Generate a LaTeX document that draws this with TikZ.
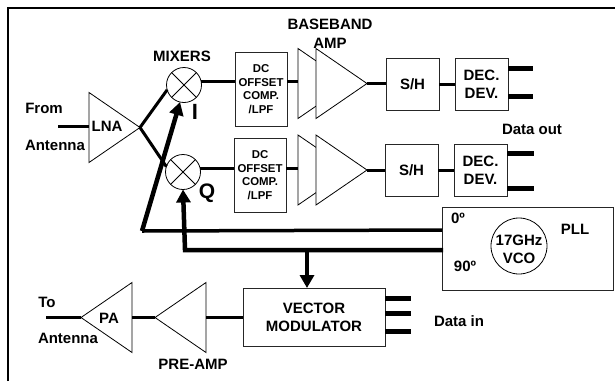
\documentclass[tikz,border=0pt]{standalone}
\usepackage{fontspec}
\setmainfont{Liberation Sans}
\usetikzlibrary{shapes.geometric,arrows.meta,positioning}

\begin{document}
\begin{tikzpicture}[
        x=1pt, y=-1pt,
        font=\fontsize{15}{18}\selectfont\bfseries,
        box/.style={rectangle, draw=black!85, line width=1pt, inner sep=0pt, outer sep=0pt, align=center},
        dcbox/.style={box, minimum width=52pt, minimum height=74pt, font=\fontsize{11.4}{13.5}\selectfont\bfseries},
        shbox/.style={box, minimum width=53pt, minimum height=52pt},
        mixer/.style={circle, draw=black, line width=0.8pt, minimum size=35pt, inner sep=0pt, outer sep=0pt,
            path picture={\draw[line width=0.8pt] (path picture bounding box.north west) -- (path picture bounding box.south east)
                (path picture bounding box.north east) -- (path picture bounding box.south west);}},
        amp/.style={isosceles triangle, isosceles triangle stretches, draw=black, fill=white, line width=0.8pt,
            minimum height=51pt, minimum width=70pt, inner sep=0pt, outer sep=0pt, anchor=lower side},
        ampback/.style={amp, shape border rotate=180},
        txt/.style={inner sep=0pt, outer sep=0pt, align=center},
        wire/.style={line width=3pt},
        fatwire/.style={line width=5pt},
        bigarrow/.style={line width=4.5pt, -{Triangle[length=13pt,width=14pt]}}
    ]
    \useasboundingbox (0,0) rectangle (615,381);

    % Frame
    \draw[line width=2pt] (8,381) -- (8,8) -- (615,8);

    % Receive input
    \node[amp] (lna) at (89,127.5) {};
    \node[txt] (lnatxt) at (107,126) {LNA};
    \coordinate (rfin) at (58,126);
    \node[txt] (from) at (44,108) {From};
    \node[txt] (antin) at (55,145) {Antenna};

    % Mixers
    \node[mixer] (mixi) at (184,85) {};
    \node[mixer] (mixq) at (183,172) {};
    \node[txt] (mixtxt) at (182,56) {MIXERS};
    \node[txt, font=\fontsize{22}{24}\selectfont\bfseries] (itxt) at (195,112) {I};
    \node[txt, font=\fontsize{21}{24}\selectfont\bfseries] (qtxt) at (207,193) {Q};

    % I channel
    \node[dcbox] (dc1) at (261,89) {DC\\OFFSET\\COMP.\\/LPF};
    \node[amp] (bb1a) at (298,83.5) {};
    \node[amp] (bb1b) at (316,83.5) {};
    \node[shbox] (sh1) at (412.5,84) {S/H};
    \node[shbox, right=16pt of sh1] (dec1) {DEC.\\DEV.};

    % Q channel
    \node[dcbox] (dc2) at (260,175) {DC\\OFFSET\\COMP.\\/LPF};
    \node[amp] (bb2a) at (298,170) {};
    \node[amp] (bb2b) at (316,170) {};
    \node[shbox] (sh2) at (411.5,170) {S/H};
    \node[shbox, right=16pt of sh2] (dec2) {DEC.\\DEV.};

    \node[txt] (bbtxt) at (330,24) {BASEBAND};
    \node[txt] (amptxt) at (330,43) {AMP};
    \node[txt] (outtxt) at (532,129) {Data out};
    \coordinate (out1) at (533,68);
    \coordinate (out2) at (533,96);
    \coordinate (out3) at (534,153);
    \coordinate (out4) at (534,188);

    % PLL
    \node[box] (pll) [minimum width=171pt, minimum height=83pt] at (527.5,248.5) {};
    \node[circle, draw=black, line width=0.8pt, minimum size=56pt, inner sep=0pt] (vco) at (519,246) {};
    \node[txt] (vcotxt) at (519,249) {17GHz\\VCO};
    \node[txt] (pllzero) at (458,218) {0º};
    \node[txt] (pllninety) at (465,266) {90º};
    \node[txt] (plltxt) at (575,229) {PLL};
    \coordinate (pll0) at (442,230);
    \coordinate (pll90) at (443,250);
    \coordinate (lo) at (142,231);
    \coordinate (q90) at (185,250);
    \coordinate (tap) at (307,250);

    % Transmit chain
    \node[box] (vm) [minimum width=142pt, minimum height=58pt] at (314,317) {VECTOR\\MODULATOR};
    \node[ampback] (pre) at (206,317.5) {};
    \node[ampback] (pa) at (132,317.5) {};
    \node[txt] (patxt) at (109,318) {PA};
    \node[txt] (pretxt) at (193,364) {PRE-AMP};
    \node[txt] (to) at (47,302) {To};
    \node[txt] (antout) at (68,338) {Antenna};
    \node[txt] (intxt) at (459,321) {Data in};
    \coordinate (rfout) at (46,317.5);
    \coordinate (din1) at (411,298);
    \coordinate (din2) at (411,313);
    \coordinate (din3) at (411,331);

    % Connections
    \draw[wire] (rfin) -- (rfin -| lna.lower side);
    \draw[wire] (lna.apex) -- (mixi.196);
    \draw[wire] (lna.apex) -- (mixq.162);
    \draw[wire] (mixi.10) -- (mixi.10 -| dc1.west);
    \draw[wire] (mixq.10) -- (mixq.10 -| dc2.west);
    \draw[wire] (dc1.east |- mixi.10) -- (bb1a.lower side |- mixi.10);
    \draw[wire] (dc2.east |- mixq.10) -- (bb2a.lower side |- mixq.10);
    \draw[wire] (bb1b.apex) -- (sh1.west |- bb1b.apex);
    \draw[wire] (bb2b.apex) -- (sh2.west |- bb2b.apex);
    \draw[wire] (sh1.east) -- (dec1.west);
    \draw[wire] (sh2.east) -- (dec2.west);
    \draw[fatwire] (dec1.east |- out1) -- (out1);
    \draw[fatwire] (dec1.east |- out2) -- (out2);
    \draw[fatwire] (dec2.east |- out3) -- (out3);
    \draw[fatwire] (dec2.east |- out4) -- (out4);
    \draw[line width=3.5pt] (pll0) -- (lo);
    \draw[bigarrow] (lo) -- (mixi.257);
    \draw[bigarrow, line join=miter] (pll90) -- (q90) -- (mixq.south);
    \draw[bigarrow] (tap) -- (tap |- vm.north);
    \draw[wire] (vm.west |- pre.lower side) -- (pre.lower side);
    \draw[wire] (pre.apex) -- (pa.lower side);
    \draw[wire] (pa.apex) -- (rfout);
    \draw[fatwire] (vm.east |- din1) -- (din1);
    \draw[fatwire] (vm.east |- din2) -- (din2);
    \draw[fatwire] (vm.east |- din3) -- (din3);

\end{tikzpicture}
\end{document}
